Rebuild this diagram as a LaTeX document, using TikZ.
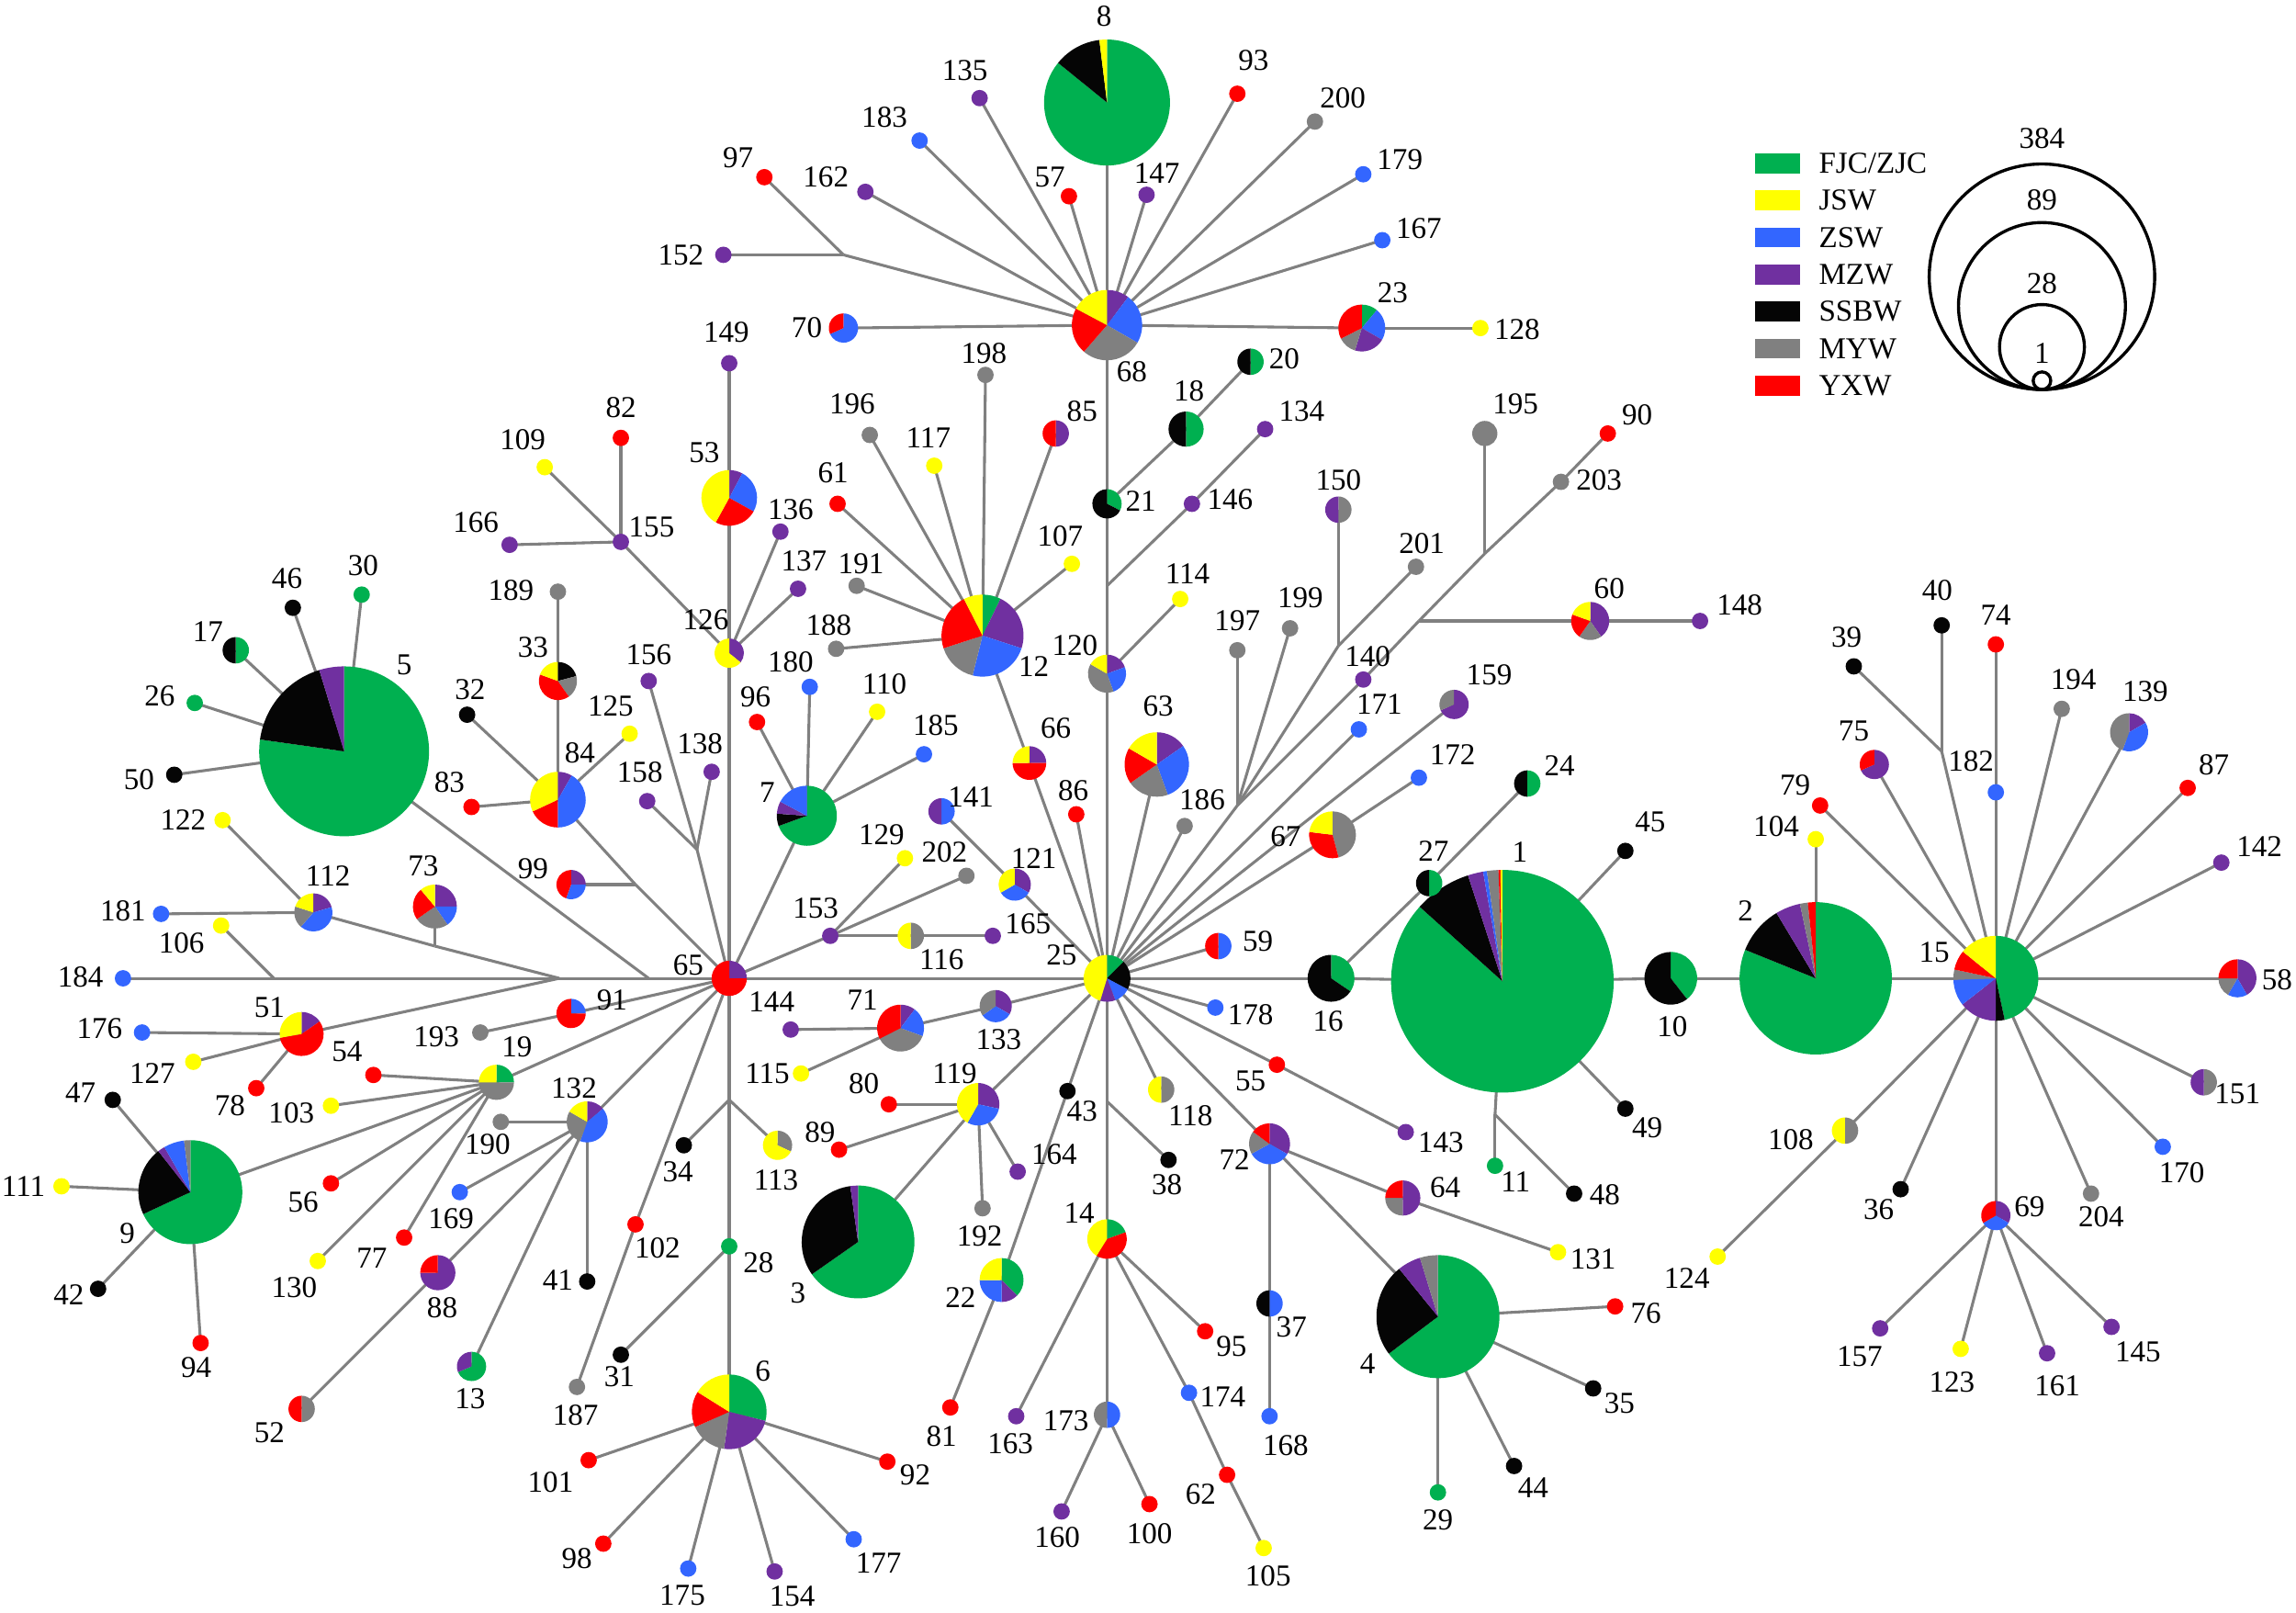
\documentclass[tikz,border=0pt]{standalone}
\usepackage{fontspec}
\setmainfont{Liberation Serif}
\newfontfamily\hapfont{Liberation Serif}
\usetikzlibrary{positioning}

\definecolor{fjc}{RGB}{0,176,80}
\definecolor{jsw}{RGB}{255,255,0}
\definecolor{zsw}{RGB}{51,102,255}
\definecolor{mzw}{RGB}{112,48,160}
\definecolor{ssbw}{RGB}{5,5,5}
\definecolor{myw}{RGB}{128,128,128}
\definecolor{yxw}{RGB}{255,0,0}
\definecolor{linkgray}{RGB}{128,128,128}

% pie on a haplotype: name, radius, colour/degrees clockwise from the top
\newcommand{\hapie}[3]{%
  \gdef\pieang{90}%
  \foreach \pcol/\pdeg in {#3}{%
    \pgfmathsetmacro{\pieend}{\pieang-\pdeg}%
    \fill[fill=\pcol] (#1) -- ++(\pieang:#2) arc[start angle=\pieang, end angle=\pieend, radius=#2] -- cycle;
    \xdef\pieang{\pieend}%
  }%
}

\begin{document}
\begin{tikzpicture}[x=0.02cm, y=0.02cm,
                    link/.style={draw=linkgray, line width=1.1pt},
                    lbl/.style={font=\hapfont\fontsize{11.8}{14}\selectfont, inner sep=1pt},
                    legbox/.style={minimum width=0.61cm, minimum height=0.27cm, inner sep=0pt},
                    sizering/.style={circle, draw=black, line width=1.2pt, inner sep=0pt, anchor=south}]
    \useasboundingbox (0,0) rectangle (1568,-1101);
    % haplotypes
    \foreach \n/\x/\y in {1/1026/670, 2/1240/668, 3/586/848, 4/982/899, 5/235/513, 6/498/964, 7/551/557,
        8/756/70, 9/130/814, 10/1141/668, 11/1021/796, 12/671/434, 13/322/933, 14/756/846, 15/1363/668,
        16/909/668, 17/161/444, 18/810/293, 19/339/739, 20/854/247, 21/756/344, 22/684/874, 23/930/224,
        24/1043/535, 25/756/668, 26/133/480, 27/976/603, 28/498/851, 29/982/1019, 30/247/406, 31/424/925,
        32/319/488, 33/381/465, 34/467/782, 35/1088/948, 36/1298/812, 37/867/890, 38/798/792, 39/1266/455,
        40/1326/427, 41/401/875, 42/67/880, 43/729/745, 44/1034/1001, 45/1110/581, 46/200/415, 47/77/751,
        48/1075/815, 49/1110/757, 50/119/529, 51/206/706, 52/206/962, 53/498/340, 54/255/734, 55/872/727,
        56/226/808, 57/730/134, 58/1528/668, 59/832/646, 60/1086/424, 61/572/344, 62/838/1007, 63/790/522,
        64/958/818, 65/498/668, 66/703/521, 67/910/570, 68/756/222, 69/1363/830, 70/576/224, 71/615/702,
        72/867/781, 73/297/619, 74/1363/440, 75/1280/522, 76/1103/892, 77/276/845, 78/175/743, 79/1243/550,
        80/607/754, 81/649/961, 82/424/299, 83/322/551, 84/381/546, 85/721/296, 86/735/556, 87/1494/538,
        88/299/869, 89/573/785, 90/1098/296, 91/390/692, 92/606/998, 93/845/64, 94/137/917, 95/823/909,
        96/517/493, 97/522/121, 98/412/1054, 99/390/604, 100/785/1027, 101/402/997, 102/434/836,
        103/226/755, 104/1240/573, 105/863/1057, 106/151/632, 107/732/385, 108/1260/772, 109/372/319,
        110/599/486, 111/42/810, 112/214/623, 113/531/782, 114/806/409, 115/547/733, 116/622/639,
        117/638/318, 118/793/744, 119/668/754, 120/756/460, 121/693/604, 122/152/560, 123/1339/921,
        124/1173/858, 125/430/501, 126/498/446, 127/132/725, 128/1011/224, 129/618/586, 130/217/861,
        131/1064/855, 132/401/766, 133/680/687, 134/864/293, 135/669/67, 136/533/363, 137/545/402,
        138/486/527, 139/1454/500, 140/931/464, 141/643/554, 142/1517/589, 143/960/773, 144/540/703,
        145/1442/906, 146/814/344, 147/783/133, 148/1161/424, 149/498/248, 150/914/348, 151/1505/739,
        152/494/174, 153/567/639, 154/529/1073, 155/424/370, 156/443/465, 157/1284/907, 158/442/547,
        159/993/481, 160/725/1032, 161/1398/924, 162/591/131, 163/694/967, 164/695/800, 165/678/639,
        166/348/372, 167/944/164, 168/867/967, 169/314/814, 170/1477/783, 171/928/498, 172/969/531,
        173/756/966, 174/812/951, 175/470/1071, 176/97/705, 177/583/1051, 178/830/688, 179/931/119,
        180/553/469, 181/110/624, 182/1363/541, 183/628/96, 184/84/668, 185/631/515, 186/809/564,
        187/394/947, 188/571/443, 189/381/404, 190/342/766, 191/585/400, 192/671/825, 193/328/705,
        194/1408/484, 195/1014/296, 196/594/297, 197/845/444, 198/673/256, 199/881/429, 200/898/83,
        201/967/387, 202/660/598, 203/1066/329, 204/1428/815}
        \coordinate (h\n) at (\x,-\y);
    % branch points
    \foreach \n/\x/\y in {152/576/174, 146/756/400, fan/845/550, 150/914/441, 60/969/424, 195/1014/378,
        158/476/580, 99/434/604, L/382/668, 5/443/668, 106/187/668, 73/297/646, 34/498/751, 38/756/752,
        11/1021/761, 40/1326/513}
        \coordinate (j\n) at (\x,-\y);
    % lines
    \foreach \a/\b in {h68/h8, h68/h135, h68/h183, h68/j152, j152/h152, j152/h97, h68/h162, h68/h57,
        h68/h147, h68/h93, h68/h200, h68/h179, h68/h167, h68/h23, h23/h128, h68/h70, h68/h21, h21/h18,
        h18/h20, h21/j146, j146/h146, h146/h134, j146/h120, h120/h114, h120/h25,
        h12/h198, h12/h196, h12/h117, h12/h85, h12/h61, h12/h107, h12/h191, h12/h188, h12/h66, h66/h25,
        h86/h25, h149/h53, h53/h126, h126/h136, h126/h137, h126/h155, h155/h109, h155/h82, h155/h166,
        h126/h65, h189/h33, h33/h84, h84/h125, h84/h32, h84/h83, h84/j99, j99/h99, j99/h65,
        j158/h156, j158/h158, j158/h138, j158/h65,
        h5/h30, h5/h46, h5/h17, h5/h26, h5/h50, h5/j5, j5/h65, jL/j5,
        jL/j106, j106/h184, j106/h106, jL/j73, j73/h112, j73/h73, h112/h122, h112/h181,
        jL/h51, h51/h176, h51/h127, h51/h78,
        h65/h25, h65/h7, h7/h180, h7/h96, h7/h110, h7/h185, h65/h153, h153/h129, h153/h202,
        h153/h116, h116/h165, h65/h91, h91/h193, h65/h19, h19/h54, h19/h103, h19/h56, h19/h130,
        h19/h77, h19/h9, h9/h47, h9/h111, h9/h42, h9/h94,
        h65/h132, h132/h190, h132/h169, h132/h41, h132/h88, h88/h52, h132/h13,
        h65/h102, h102/h187, h65/j34, j34/h34, j34/h113, j34/h28, h28/h31, h28/h6,
        h6/h101, h6/h92, h6/h98, h6/h175, h6/h154, h6/h177,
        h141/h121, h121/h25, h144/h71, h115/h71, h71/h133, h133/h25,
        h119/h80, h119/h89, h119/h164, h119/h192, h119/h3, h119/h25, h22/h43, h43/h25, h22/h81,
        h25/j38, j38/h38, j38/h14, h14/h95, h14/h174, h174/h62, h62/h105, h14/h163, h14/h173,
        h173/h160, h173/h100,
        h25/h118, h25/h55, h55/h143, h25/h72, h72/h64, h64/h131, h72/h37, h37/h168,
        h72/h4, h4/h76, h4/h35, h4/h44, h4/h29,
        h25/h63, h25/h186, h25/jfan, jfan/h197, jfan/h199, jfan/j150, j150/h150, j150/h201,
        jfan/h140, h140/j60, j60/h60, h60/h148, j60/j195, j195/h195, j195/h203, h203/h90,
        h25/h171, h25/h159, h25/h67, h67/h172, h25/h59, h25/h178, h25/h16, h16/h27, h27/h24, h16/h1,
        h1/h45, h1/h49, h1/j11, j11/h11, j11/h48, h1/h10, h10/h2, h2/h104, h2/h15,
        h15/h79, h15/h75, h15/j40, j40/h39, j40/h40, h15/h182, h182/h74, h15/h194, h15/h139,
        h15/h87, h15/h142, h15/h58, h15/h151, h15/h170, h15/h204, h15/h69, h69/h157, h69/h123,
        h69/h161, h69/h145, h15/h36, h15/h108, h108/h124}
        \draw[link] (\a) -- (\b);
    % pies
    \hapie{h1}{76}{fjc/312, ssbw/30, mzw/8, zsw/2, myw/6, yxw/1, jsw/1}
    \hapie{h2}{52}{fjc/292, ssbw/37, mzw/19, myw/6, yxw/6}
    \hapie{h3}{38.5}{fjc/235, ssbw/117, mzw/8}
    \hapie{h4}{42}{fjc/233, ssbw/88, mzw/22, myw/17}
    \hapie{h5}{58}{fjc/278, ssbw/65, mzw/17}
    \hapie{h6}{25.5}{fjc/104, mzw/84, myw/58, yxw/56, jsw/58}
    \hapie{h7}{20.5}{fjc/250, ssbw/24, mzw/24, zsw/62}
    \hapie{h8}{43}{fjc/309, ssbw/44, jsw/7}
    \hapie{h9}{35.5}{fjc/245, ssbw/77, mzw/8, zsw/23, myw/7}
    \hapie{h10}{18}{fjc/142, ssbw/218}
    \hapie{h12}{28}{fjc/26, mzw/82, zsw/86, myw/58, yxw/81, jsw/27}
    \hapie{h13}{10}{fjc/247, mzw/113}
    \hapie{h14}{13.5}{fjc/70, yxw/142, jsw/148}
    \hapie{h15}{29}{fjc/168, ssbw/12, mzw/52, zsw/36, myw/14, yxw/27, jsw/51}
    \hapie{h16}{16}{fjc/124, ssbw/236}
    \hapie{h17}{9}{fjc/180, ssbw/180}
    \hapie{h18}{12}{fjc/180, ssbw/180}
    \hapie{h19}{12}{fjc/90, myw/180, jsw/90}
    \hapie{h20}{9}{fjc/180, ssbw/180}
    \hapie{h21}{10}{fjc/117, ssbw/243}
    \hapie{h22}{15}{fjc/135, mzw/45, zsw/90, jsw/90}
    \hapie{h23}{16}{fjc/40, zsw/80, mzw/77, myw/46, yxw/117}
    \hapie{h24}{9}{fjc/180, ssbw/180}
    \hapie{h25}{16}{fjc/45, ssbw/73, zsw/41, mzw/38, jsw/163}
    \hapie{h27}{9}{fjc/180, ssbw/180}
    \hapie{h33}{13}{ssbw/75, myw/70, yxw/145, jsw/70}
    \hapie{h37}{9}{zsw/180, ssbw/180}
    \hapie{h51}{15}{mzw/55, yxw/205, jsw/100}
    \hapie{h52}{9}{myw/180, yxw/180}
    \hapie{h53}{19}{mzw/28, zsw/91, yxw/90, jsw/151}
    \hapie{h58}{13}{mzw/150, zsw/60, myw/60, yxw/90}
    \hapie{h59}{9}{zsw/180, yxw/180}
    \hapie{h60}{13}{mzw/145, myw/70, yxw/75, jsw/70}
    \hapie{h63}{22}{mzw/55, zsw/105, myw/75, yxw/65, jsw/60}
    \hapie{h64}{12}{mzw/180, myw/90, yxw/90}
    \hapie{h65}{12}{mzw/90, yxw/270}
    \hapie{h66}{11.5}{mzw/90, yxw/180, jsw/90}
    \hapie{h67}{16}{myw/165, yxw/112, jsw/83}
    \hapie{h68}{24}{mzw/37, zsw/83, myw/101, yxw/77, jsw/62}
    \hapie{h69}{10}{mzw/120, zsw/120, yxw/120}
    \hapie{h70}{10}{zsw/246, yxw/114}
    \hapie{h71}{16}{mzw/37, zsw/73, myw/133, yxw/117}
    \hapie{h72}{14}{mzw/120, zsw/121, myw/65, yxw/54}
    \hapie{h73}{15}{mzw/90, zsw/55, myw/90, yxw/85, jsw/40}
    \hapie{h75}{10}{mzw/246, yxw/114}
    \hapie{h84}{19}{mzw/30, zsw/150, yxw/65, jsw/115}
    \hapie{h85}{9}{mzw/180, yxw/180}
    \hapie{h88}{12}{mzw/270, yxw/90}
    \hapie{h91}{10}{zsw/90, yxw/270}
    \hapie{h99}{10}{mzw/90, zsw/110, yxw/160}
    \hapie{h108}{9}{myw/180, jsw/180}
    \hapie{h112}{13}{mzw/74, zsw/147, myw/67, jsw/72}
    \hapie{h113}{10}{myw/115, jsw/245}
    \hapie{h116}{9}{myw/180, jsw/180}
    \hapie{h118}{9}{myw/180, jsw/180}
    \hapie{h119}{14.5}{mzw/102, zsw/108, jsw/150}
    \hapie{h120}{13}{mzw/70, zsw/90, myw/140, jsw/60}
    \hapie{h121}{11}{mzw/120, zsw/120, jsw/120}
    \hapie{h126}{10}{mzw/129, jsw/231}
    \hapie{h132}{14}{mzw/50, zsw/150, myw/100, jsw/60}
    \hapie{h133}{11}{mzw/120, zsw/115, myw/125}
    \hapie{h139}{13}{mzw/60, zsw/140, myw/160}
    \hapie{h141}{9}{zsw/180, mzw/180}
    \hapie{h150}{9}{myw/180, mzw/180}
    \hapie{h151}{9}{myw/180, mzw/180}
    \hapie{h159}{10}{mzw/246, myw/114}
    \hapie{h173}{9}{zsw/180, myw/180}
    \fill[fill=myw] (h195) circle[radius=8.6];
    % single dots
    \foreach \n/\c in {11/fjc, 26/fjc, 28/fjc, 29/fjc, 30/fjc,
        31/ssbw, 32/ssbw, 34/ssbw, 35/ssbw, 36/ssbw, 38/ssbw, 39/ssbw, 40/ssbw, 41/ssbw, 42/ssbw,
        43/ssbw, 44/ssbw, 45/ssbw, 46/ssbw, 47/ssbw, 48/ssbw, 49/ssbw, 50/ssbw,
        54/yxw, 55/yxw, 56/yxw, 57/yxw, 61/yxw, 62/yxw, 74/yxw, 76/yxw, 77/yxw, 78/yxw, 79/yxw,
        80/yxw, 81/yxw, 82/yxw, 83/yxw, 86/yxw, 87/yxw, 89/yxw, 90/yxw, 92/yxw, 93/yxw, 94/yxw,
        95/yxw, 96/yxw, 97/yxw, 98/yxw, 100/yxw, 101/yxw, 102/yxw,
        103/jsw, 104/jsw, 105/jsw, 106/jsw, 107/jsw, 109/jsw, 110/jsw, 111/jsw, 114/jsw, 115/jsw,
        117/jsw, 122/jsw, 123/jsw, 124/jsw, 125/jsw, 127/jsw, 128/jsw, 129/jsw, 130/jsw, 131/jsw,
        134/mzw, 135/mzw, 136/mzw, 137/mzw, 138/mzw, 140/mzw, 142/mzw, 143/mzw, 144/mzw, 145/mzw,
        146/mzw, 147/mzw, 148/mzw, 149/mzw, 152/mzw, 153/mzw, 154/mzw, 155/mzw, 156/mzw, 157/mzw,
        158/mzw, 160/mzw, 161/mzw, 162/mzw, 163/mzw, 164/mzw, 165/mzw, 166/mzw,
        167/zsw, 168/zsw, 169/zsw, 170/zsw, 171/zsw, 172/zsw, 174/zsw, 175/zsw, 176/zsw, 177/zsw,
        178/zsw, 179/zsw, 180/zsw, 181/zsw, 182/zsw, 183/zsw, 184/zsw, 185/zsw,
        186/myw, 187/myw, 188/myw, 189/myw, 190/myw, 191/myw, 192/myw, 193/myw, 194/myw, 196/myw,
        197/myw, 198/myw, 199/myw, 200/myw, 201/myw, 202/myw, 203/myw, 204/myw}
        \fill[fill=\c] (h\n) circle[radius=5.6];
    % labels
    \foreach \n/\x/\y in {1/1038/582, 2/1192/622, 3/545/883, 4/934/931, 5/276/454, 6/521/936, 7/524/541,
        8/754/11, 9/87/842, 10/1142/701, 11/1035/807, 12/706/455, 13/321/955, 14/737/828, 15/1321/650,
        16/907/697, 17/142/431, 18/812/267, 19/353/715, 20/877/245, 21/779/342, 22/656/886, 23/951/200,
        24/1065/523, 25/725/652, 26/109/475, 27/979/581, 28/518/862, 29/982/1038, 30/248/386, 31/423/940,
        32/321/471, 33/364/442, 34/463/800, 35/1106/958, 36/1283/826, 37/882/906, 38/797/809,
        39/1261/435, 40/1323/403, 41/381/874, 42/47/884, 43/739/759, 44/1047/1016, 45/1127/561,
        46/196/395, 47/55/746, 48/1096/816, 49/1125/770, 50/95/532, 51/184/688, 52/184/978, 53/481/309,
        54/237/718, 55/854/738, 56/207/821, 57/717/121, 58/1555/669, 59/859/643, 60/1099/402,
        61/569/323, 62/820/1020, 63/791/482, 64/987/811, 65/470/659, 66/721/497, 67/878/571,
        68/773/254, 69/1386/824, 70/551/224, 71/589/683, 72/843/792, 73/289/591, 74/1363/420,
        75/1266/499, 76/1124/897, 77/254/859, 78/157/755, 79/1226/536, 80/590/740, 81/643/981,
        82/424/278, 83/307/534, 84/396/514, 85/739/281, 86/733/540, 87/1512/522, 88/302/893,
        89/560/773, 90/1118/283, 91/418/683, 92/625/1007, 93/856/41, 94/134/934, 95/841/919,
        96/516/476, 97/504/108, 98/394/1064, 99/364/593, 100/785/1047, 101/376/1012, 102/449/852,
        103/199/760, 104/1213/564, 105/866/1076, 106/124/644, 107/724/366, 108/1223/778, 109/357/300,
        110/604/467, 111/16/810, 112/224/598, 113/530/806, 114/811/392, 115/524/733, 116/643/655,
        117/634/299, 118/813/762, 119/652/733, 120/734/441, 121/706/586, 122/125/560, 123/1333/944,
        124/1152/873, 125/417/482, 126/482/423, 127/104/733, 128/1036/225, 129/602/570, 130/201/879,
        131/1088/860, 132/392/743, 133/682/710, 134/889/281, 135/659/48, 136/540/348, 137/549/383,
        138/478/508, 139/1465/472, 140/934/448, 141/663/544, 142/1543/578, 143/984/780, 144/527/684,
        145/1460/923, 146/840/341, 147/790/118, 148/1188/413, 149/496/227, 150/914/328, 151/1528/747,
        152/465/174, 153/557/620, 154/541/1090, 155/445/360, 156/443/447, 157/1270/926, 158/437/527,
        159/1017/461, 160/722/1050, 161/1405/946, 162/564/121, 163/690/986, 164/720/788, 165/702/631,
        166/325/357, 167/969/156, 168/878/987, 169/308/832, 170/1490/801, 171/942/481, 172/992/515,
        173/728/970, 174/835/954, 175/466/1089, 176/68/702, 177/600/1067, 178/854/693, 179/956/109,
        180/540/452, 181/84/622, 182/1346/520, 183/604/80, 184/55/667, 185/639/495, 186/821/546,
        187/393/966, 188/566/427, 189/349/403, 190/333/781, 191/588/385, 192/669/844, 193/298/708,
        194/1416/464, 195/1035/276, 196/582/276, 197/845/424, 198/672/241, 199/888/408, 200/917/67,
        201/971/371, 202/645/582, 203/1092/328, 204/1435/831}
        \node[lbl] (l\n) at (\x,-\y) {\n};
    % legend
    \node[legbox, fill=fjc]                      (kfjc)  at (1214,-111.5) {};
    \node[legbox, fill=jsw,  below=0.222cm of kfjc] (kjsw)  {};
    \node[legbox, fill=zsw,  below=0.222cm of kjsw] (kzsw)  {};
    \node[legbox, fill=mzw,  below=0.222cm of kzsw] (kmzw)  {};
    \node[legbox, fill=ssbw, below=0.222cm of kmzw] (kssbw) {};
    \node[legbox, fill=myw,  below=0.222cm of kssbw] (kmyw) {};
    \node[legbox, fill=yxw,  below=0.222cm of kmyw] (kyxw)  {};
    \node[lbl, right=0.21cm of kfjc]  (tfjc)  {FJC/ZJC};
    \node[lbl, right=0.21cm of kjsw]  (tjsw)  {JSW};
    \node[lbl, right=0.21cm of kzsw]  (tzsw)  {ZSW};
    \node[lbl, right=0.21cm of kmzw]  (tmzw)  {MZW};
    \node[lbl, right=0.21cm of kssbw] (tssbw) {SSBW};
    \node[lbl, right=0.21cm of kmyw]  (tmyw)  {MYW};
    \node[lbl, right=0.21cm of kyxw]  (tyxw)  {YXW};
    \node[sizering, minimum size=3.08cm] (r384) at (1394.5,-267) {};
    \node[sizering, minimum size=2.28cm] (r89)  at (1394.5,-267) {};
    \node[sizering, minimum size=1.16cm] (r28)  at (1394.5,-267) {};
    \node[sizering, minimum size=0.24cm] (r1)   at (1394.5,-267) {};
    \node[lbl, above=4pt of r384]   (t384) {384};
    \node[lbl, above=3pt of r89]    (t89)  {89};
    \node[lbl, above=2.5pt of r28]  (t28)  {28};
    \node[lbl, above=1.5pt of r1]   (t1)   {1};
\end{tikzpicture}
\end{document}
